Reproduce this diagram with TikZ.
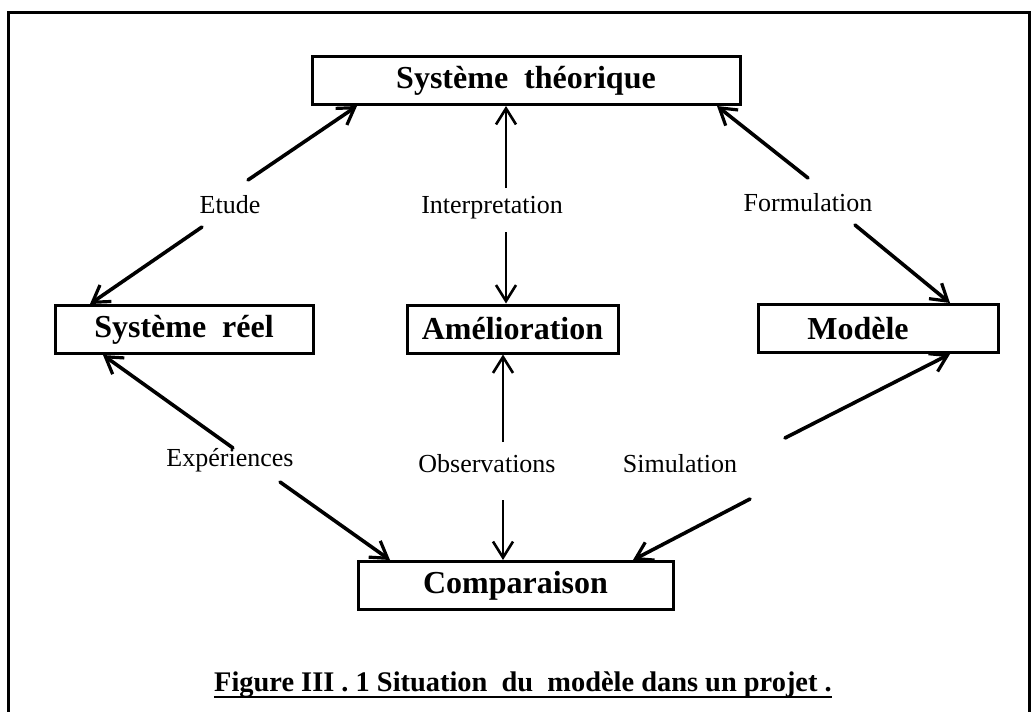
\documentclass[tikz,border=0pt]{standalone}
\usepackage{fontspec}
\setmainfont{Liberation Serif}
\usetikzlibrary{arrows.meta,calc}
\begin{document}
\begin{tikzpicture}[x=0.5pt,y=-0.5pt,
  box/.style={draw, line width=1.5pt, inner sep=0pt, minimum height=24pt,
              font=\fontsize{16}{19}\selectfont\bfseries},
  lbl/.style={inner sep=0pt, font=\fontsize{13}{15}\selectfont},
  link/.style={line width=1.8pt, line cap=round,
               -{Straight Barb[length=8pt,width=10pt,line width=1.6pt]}},
  vlink/.style={line width=1.1pt,
               -{Straight Barb[length=8pt,width=10pt,line width=1.3pt]}},
]
\clip (0,0) rectangle (1035,712);
\fill[white] (0,0) rectangle (1035,712);

% open frame around the figure
\draw[line width=1.5pt] (8,720) -- (8,12) -- (1029,12) -- (1029,720);

% boxes
\node[box, minimum width=214pt]   (st) at (526,80.5)   {Système\ \ théorique};
\node[box, minimum width=129pt]   (sr) at (184,329.5)  {Système\ \ réel};
\node[box, minimum width=105.5pt] (am) at (512.5,329)  {Amélioration};
\node[box, minimum width=120pt]   (mo) at (878,328.5)  {Modèle\hspace*{20pt}};
\node[box, minimum width=157.5pt] (co) at (515.5,585.5) {Comparaison};

% link labels
\node[lbl] (etu) at (230,205) {Etude};
\node[lbl] (int) at (492,208) {Interpretation};
\node[lbl] (for) at (808,203) {Formulation};
\node[lbl] (exp) at (230,460) {Expériences};
\node[lbl] (obs) at (487,464) {Observations};
\node[lbl] (sim) at (680,464) {Simulation};

% connectors, each split around its label
\draw[link]  ($(etu)+(18,-25)$) -- ($(st.south)+(-169,0)$);
\draw[link]  ($(etu)+(-28,22)$) -- ($(sr.north)+(-94,0)$);
\draw[vlink] ($(int)+(14,-20)$) -- ($(st.south)+(-20,0)$);
\draw[vlink] ($(int)+(14,24)$)  -- ($(am.north)+(-6.5,0)$);
\draw[link]  ($(for)+(0,-25)$)  -- ($(st.south)+(191,0)$);
\draw[link]  ($(for)+(47,22)$)  -- ($(mo.north)+(72,0)$);
\draw[link]  ($(exp)+(3,-12)$)  -- ($(sr.south)+(-81,0)$);
\draw[link]  ($(exp)+(50,22)$)  -- ($(co.north)+(-125.5,0)$);
\draw[vlink] ($(obs)+(16,-22)$) -- ($(am.south)+(-9.5,0)$);
\draw[vlink] ($(obs)+(16,36)$)  -- ($(co.north)+(-12.5,0)$);
\draw[link]  ($(sim)+(105,-26)$) -- ($(mo.south)+(72,0)$);
\draw[link]  ($(sim)+(70,35)$)  -- ($(co.north)+(117.5,0)$);

% caption
\node[inner sep=0pt, anchor=base, font=\fontsize{14.2}{17}\selectfont\bfseries]
  (cap) at (523,691) {Figure III . 1 Situation\ \ du\ \ modèle dans un projet .};
\draw[line width=1pt] ($(cap.base west)+(0,6)$) -- ($(cap.base east)+(0,6)$);
\end{tikzpicture}
\end{document}
